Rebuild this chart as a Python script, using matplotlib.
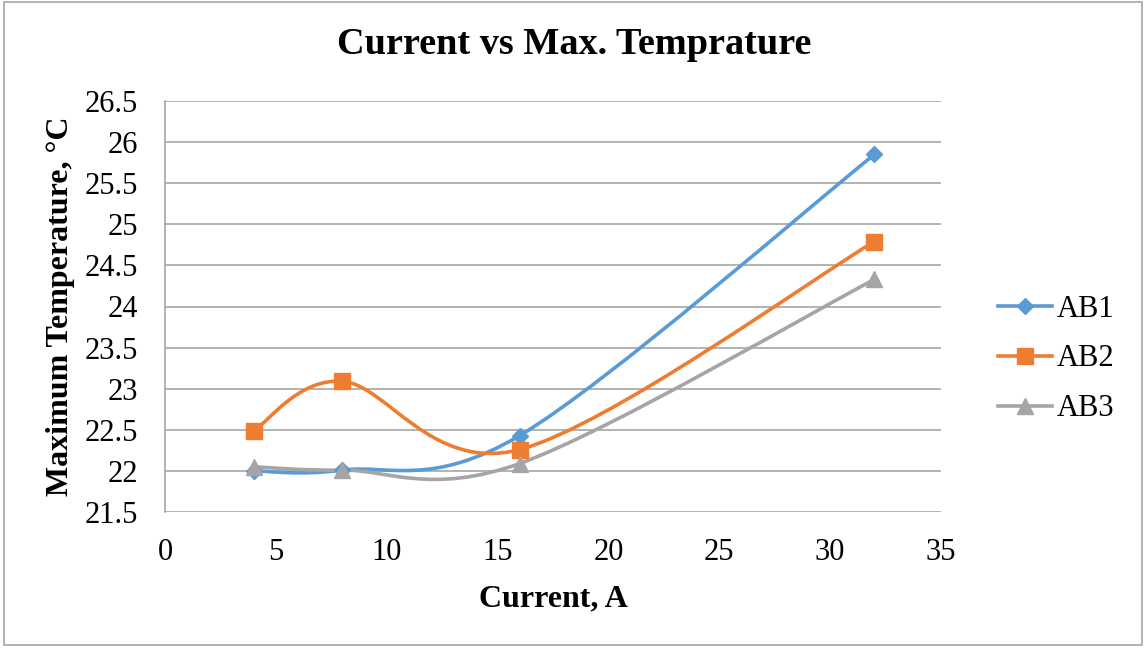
import numpy as np
import matplotlib
matplotlib.use("Agg")
import matplotlib.pyplot as plt
from matplotlib.path import Path
from matplotlib.patches import PathPatch, Rectangle

current = [4, 8, 16, 32]
ab1 = [22.00, 22.01, 22.43, 25.85]
ab2 = [22.49, 23.09, 22.26, 24.79]
ab3 = [22.05, 22.01, 22.09, 24.33]
series_names = ["AB1", "AB2", "AB3"]
colors = ["#5B9BD5", "#ED7D31", "#A5A5A5"]
markers = ["D", "s", "^"]
msizes = [8, 11, 11]

plt.rcParams['font.family'] = ['Liberation Serif', 'DejaVu Serif']

fig = plt.figure(figsize=(11.45, 6.49), dpi=100)
fig.patches.append(Rectangle((4/1145, 1-645/649), 1138/1145, 643/649, transform=fig.transFigure,
                             fill=False, edgecolor='#A6A6A6', linewidth=1.2))
ax = fig.add_axes([165/1145, 1-512/649, (941-165)/1145, (512-101)/649])


def smooth_path(xs, ys):
    pts = np.column_stack([xs, ys]).astype(float)
    n = len(pts)
    verts = [pts[0]]
    codes = [Path.MOVETO]
    for i in range(n - 1):
        p0 = pts[i - 1] if i > 0 else pts[i]
        p1 = pts[i]
        p2 = pts[i + 1]
        p3 = pts[i + 2] if i + 2 < n else pts[i + 1]
        c1 = p1 + (p2 - p0) / 6.0
        c2 = p2 - (p3 - p1) / 6.0
        verts += [c1, c2, p2]
        codes += [Path.CURVE4] * 3
    return Path(verts, codes)


for ys, name, c, m, ms in zip([ab1, ab2, ab3], series_names, colors, markers, msizes):
    ax.add_patch(PathPatch(smooth_path(current, ys), facecolor='none', edgecolor=c,
                           linewidth=2.6, zorder=3, capstyle='round'))
    ax.plot(current, ys, linestyle='none', marker=m, color=c, markersize=ms, zorder=4)
    ax.plot([], [], color=c, marker=m, markersize=ms, linewidth=2.6, label=name)

ax.set_xlim(0, 35)
ax.set_ylim(21.5, 26.5)
ax.set_xticks(np.arange(0, 36, 5))
ax.set_yticks(np.arange(21.5, 26.51, 0.5))
ax.set_yticklabels([f"{v:g}" for v in np.arange(21.5, 26.51, 0.5)])
ax.grid(axis='y', color='#A6A6A6', linewidth=1.2)
ax.set_axisbelow(True)
for s in ['top', 'right', 'bottom']:
    ax.spines[s].set_visible(False)
ax.spines['left'].set_color('#A6A6A6')
ax.spines['left'].set_linewidth(1.2)
ax.tick_params(axis='both', length=0, labelsize=22)
ax.tick_params(axis='x', pad=19)
ax.tick_params(axis='y', pad=19.5)

ax.set_xlabel("Current, A", fontsize=23, fontweight='bold', labelpad=12)
ax.set_ylabel("Maximum Temperature, \u00b0C", fontsize=23, fontweight='bold', labelpad=7)
fig.text(574/1145, 1-44/649, "Current vs Max. Temprature", fontsize=27.5, fontweight='bold',
         ha='center', va='center')

leg = ax.legend(loc='center left', bbox_to_anchor=((998-165)/776, (512-359)/411), frameon=False,
                fontsize=22, handlelength=1.77, labelspacing=0.68, handletextpad=0.16,
                borderpad=0, borderaxespad=0)

fig.savefig("out.png", dpi=100)
